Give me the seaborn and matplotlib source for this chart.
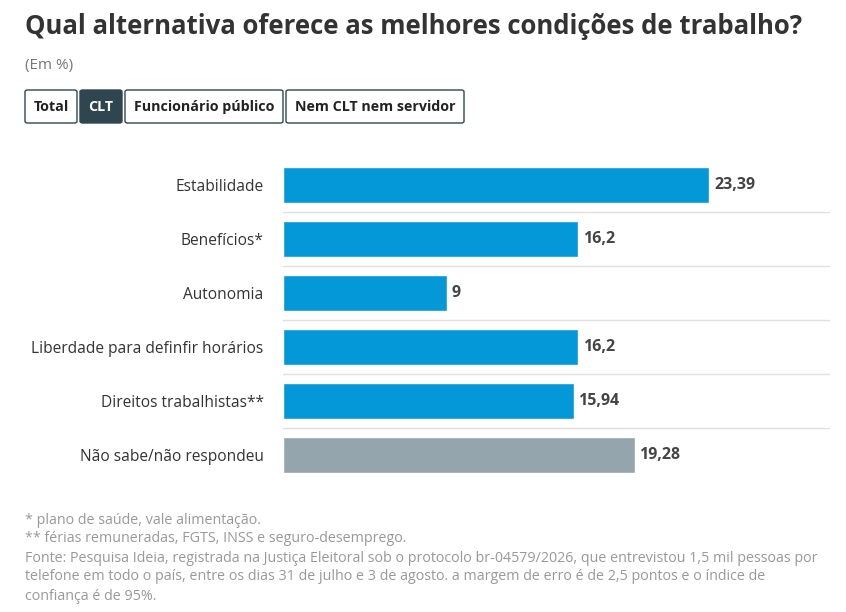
import matplotlib.pyplot as plt
import seaborn as sns
import pandas as pd
from matplotlib.patches import FancyBboxPatch

categorias = ["Estabilidade", "Benefícios*", "Autonomia", "Liberdade para definfir horários",
              "Direitos trabalhistas**", "Não sabe/não respondeu"]
valores = [23.39, 16.2, 9, 16.2, 15.94, 19.28]
rotulos = ["23,39", "16,2", "9", "16,2", "15,94", "19,28"]
cores = ["#0598d8"] * 5 + ["#95a5ae"]
botoes = ["Total", "CLT", "Funcionário público", "Nem CLT nem servidor"]

sns.set_style("white")
plt.rcParams['font.family'] = ['Open Sans', 'DejaVu Sans']

W, H = 846, 612
fig = plt.figure(figsize=(W / 100, H / 100), dpi=100)
ax = fig.add_axes([283 / W, 1 - 482 / H, (830 - 283) / W, (482 - 158) / H])

df = pd.DataFrame({"cat": categorias, "val": valores})
sns.barplot(data=df, x="val", y="cat", hue="cat", palette=cores, legend=False,
            width=0.67, ax=ax, saturation=1)
ax.set_xlim(0, 30)
ax.set_ylim(5.5, -0.5)
for i, (v, r) in enumerate(zip(valores, rotulos)):
    ax.text(v + 0.25, i, r, va="center", ha="left", fontsize=11.5, fontweight="bold", color="#444444")
    if i < len(valores) - 1:
        ax.axhline(i + 0.5, color="#e0e0e0", lw=1)
ax.set_xlabel("")
ax.set_ylabel("")
ax.set_xticks([])
ax.tick_params(axis="y", length=0, pad=14, labelsize=11.2, labelcolor="#333333")
sns.despine(ax=ax, left=True, bottom=True)

fig.text(25 / W, 1 - 26 / H, "Qual alternativa oferece as melhores condições de trabalho?",
         fontsize=18.5, fontweight="bold", color="#333333", va="center")
fig.text(25 / W, 1 - 66 / H, "(Em %)", fontsize=11, color="#777777", va="center")

caixas = [(25, 77), (80, 122), (125, 283), (286, 464)]
for (x0, x1), nome in zip(caixas, botoes):
    ativo = nome == "CLT"
    p = FancyBboxPatch((x0 / W, 1 - 123 / H), (x1 - x0) / W, 33 / H,
                       boxstyle="round,pad=0,rounding_size=0.003", transform=fig.transFigure,
                       facecolor="#2f4650" if ativo else "white", edgecolor="#2f4650", lw=1)
    fig.patches.append(p)
    fig.text((x0 + x1) / 2 / W, 1 - 106.5 / H, nome, ha="center", va="center", fontsize=10.3,
             fontweight="bold", color="white" if ativo else "#222222")

notas = ["* plano de saúde, vale alimentação.",
         "** férias remuneradas, FGTS, INSS e seguro-desemprego.",
         "Fonte: Pesquisa Ideia, registrada na Justiça Eleitoral sob o protocolo br-04579/2026, que entrevistou 1,5 mil pessoas por",
         "telefone em todo o país, entre os dias 31 de julho e 3 de agosto. a margem de erro é de 2,5 pontos e o índice de",
         "confiança é de 95%."]
for y, t in zip([520, 539, 558, 577, 596], notas):
    fig.text(25 / W, 1 - y / H, t, fontsize=10.3, color="#999999", va="center")

fig.savefig("out.png", dpi=100)
